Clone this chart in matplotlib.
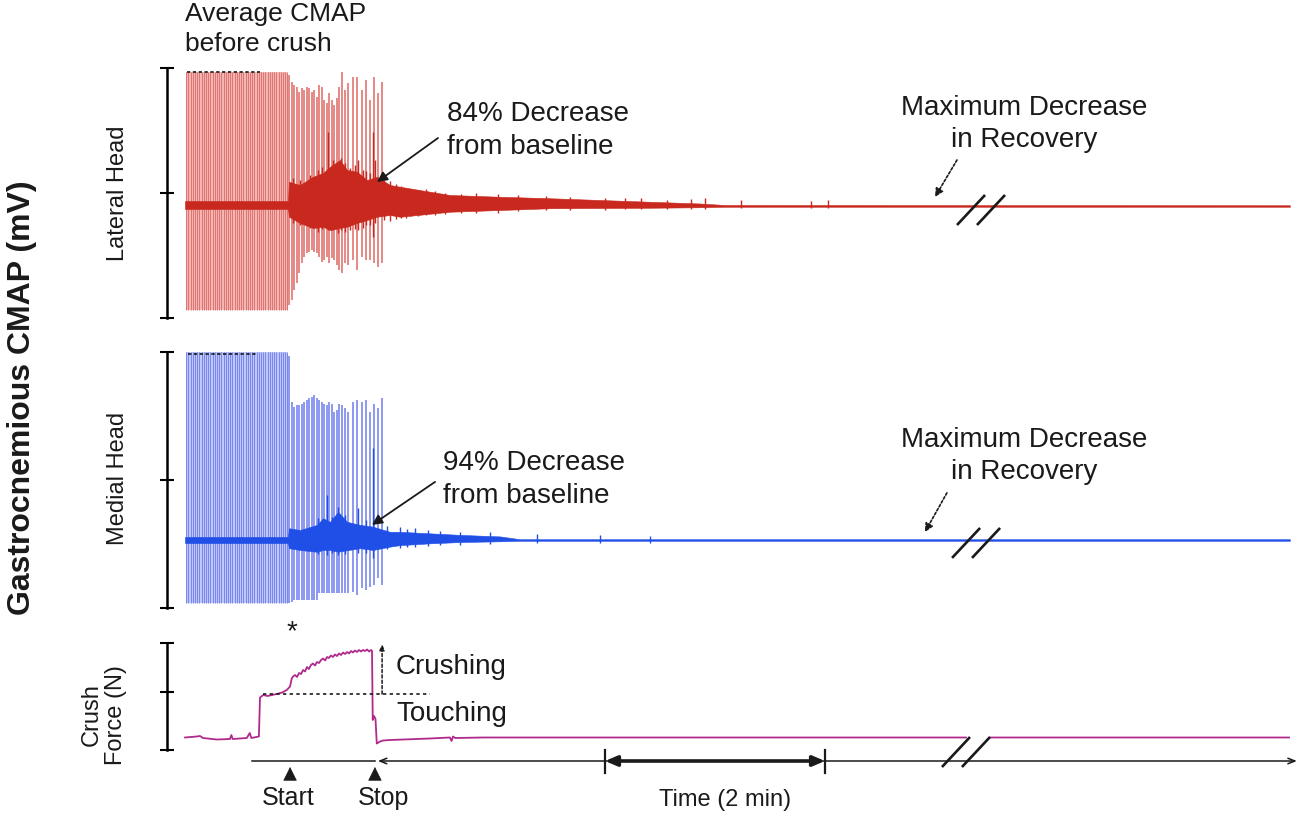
import matplotlib
matplotlib.use("Agg")
import matplotlib.pyplot as plt
import numpy as np

plt.rcParams["font.family"] = ["Liberation Sans", "DejaVu Sans"]

# ---- data (time in s, CMAP in mV, force in N) ----
T_START, T_END = -19.1, 608.2

# stimulation-evoked CMAPs before the crush
PRE_TIMES = [0.6, 1.8, 3.0, 4.2, 5.4, 6.6, 7.8, 9.0, 10.2, 11.4, 12.6, 13.8, 15.0,
             16.2, 17.4, 18.6, 19.8, 21.0, 22.2, 23.4, 24.6, 25.8, 27.0, 28.2, 29.4,
             30.6, 31.8, 33.0, 34.2, 35.4, 36.6, 37.8, 39.0, 40.2, 41.4, 42.6, 43.8,
             45.0, 46.2, 47.4, 48.6, 49.8, 51.0, 52.2, 53.4, 54.6, 55.8]
LAT_PRE_TOP, LAT_PRE_BOT = 5.32, -4.2
MED_PRE_TOP, MED_PRE_BOT = 7.36, -2.46

# CMAPs during / right after the crush
POST_TIMES = [56.9, 58.2, 59.5, 60.9, 62.2, 63.7, 64.9, 66.4, 67.6, 69.1, 70.4, 71.8,
              73.1, 74.6, 75.8, 77.3, 78.7, 80.0, 81.4, 82.7, 84.2, 85.5, 87.3, 89.1,
              91.8, 94.0, 96.4, 98.6, 100.9, 103.3, 105.4, 107.3]
LAT_POST_TOP = [5.2, 4.93, 4.8, 4.73, 4.53, 4.67, 4.6, 4.73, 4.67, 4.53, 4.6, 4.33,
                4.8, 4.73, 4.2, 4.07, 4.47, 4.2, 4.0, 4.27, 4.73, 5.33, 4.6, 4.87,
                5.13, 5.13, 4.6, 5.0, 4.2, 5.13, 4.47, 4.93]
LAT_POST_BOT = [-4.0, -3.8, -3.4, -3.13, -2.73, -2.33, -2.07, -1.93, -1.87, -1.8, -1.87,
                -1.93, -2.07, -2.27, -2.2, -2.07, -2.33, -2.13, -2.2, -2.4, -2.6, -2.73,
                -2.33, -2.4, -2.2, -2.6, -2.07, -2.2, -2.2, -2.33, -2.47, -2.33]
MED_POST_TOP = [7.2, 5.4, 5.2, 5.27, 5.27, 5.33, 5.4, 5.47, 5.53, 5.6, 5.66, 5.53,
                5.47, 5.4, 5.33, 5.27, 5.4, 5.33, 5.01, 5.08, 5.33, 5.27, 5.14, 5.01,
                5.4, 5.47, 5.4, 5.47, 5.01, 5.33, 5.14, 5.53]
MED_POST_BOT = [-2.45, -2.41, -2.34, -2.34, -2.34, -2.34, -2.34, -2.34, -2.34, -2.34,
                -2.34, -2.34, -2.08, -2.08, -2.08, -2.08, -2.08, -2.08, -2.08, -2.08,
                -2.08, -2.08, -2.08, -2.08, -2.02, -2.15, -1.89, -1.95, -1.82, -1.76,
                -1.5, -1.76]

# EMG activity envelope (baseline noise / injury discharge)
LAT_ENV_T = [0, 56.2, 56.7, 62.7, 69.8, 75.3, 79.1, 84.5, 88.4, 93.8, 99.3, 104.7,
             111.8, 117.3, 144.5, 171.8, 199.1, 226.4, 253.6, 280.9, 294.5, 602.7]
LAT_ENV_TOP = [0.16, 0.16, 0.93, 0.8, 1.13, 1.28, 1.53, 1.8, 1.4, 1.33, 1.0, 1.13,
               0.8, 0.73, 0.4, 0.33, 0.27, 0.2, 0.13, 0.06, 0.0, -0.01]
LAT_ENV_BOT = [-0.16, -0.16, -0.47, -0.72, -0.92, -0.87, -1.0, -0.92, -0.87, -0.72,
               -0.6, -0.47, -0.4, -0.47, -0.27, -0.2, -0.13, -0.12, -0.11, -0.09,
               -0.07, -0.07]
MED_ENV_T = [0, 56.2, 56.7, 62.7, 72.0, 75.3, 79.1, 83.5, 88.4, 95.5, 102.5, 111.8,
             117.3, 133.6, 150.0, 171.8, 182.7, 602.7]
MED_ENV_TOP = [0.12, 0.12, 0.46, 0.39, 0.59, 0.85, 0.71, 1.1, 0.71, 0.59, 0.52, 0.32,
               0.32, 0.26, 0.2, 0.14, 0.03, 0.03]
MED_ENV_BOT = [-0.12, -0.12, -0.32, -0.39, -0.46, -0.39, -0.39, -0.46, -0.4, -0.32,
               -0.39, -0.26, -0.2, -0.13, -0.08, -0.05, -0.03, -0.03]

# isolated discharge peaks riding on the activity
LAT_PEAK_T = [58.9, 62.7, 68.2, 72.5, 74.7, 77.9, 80.7, 83.4, 85.1, 87.3, 90.0, 92.7,
              94.4, 97.1, 98.8, 101.0, 102.6, 103.8, 108.5, 112.0, 115.1, 117.9, 120.7,
              123.4, 127.0, 131.5, 136.4, 141.9, 150.5, 158.6, 170.7, 181.6, 196.9,
              210.0, 229.1, 240.0, 248.7, 263.0, 276.0, 283.6, 303.3, 341.5, 350.7]
LAT_PEAK_TOP = [1.07, 1.0, 1.2, 1.4, 1.53, 2.93, 1.8, 1.7, 1.87, 1.67, 1.5, 1.6, 1.8,
                1.4, 1.35, 1.3, 2.93, 1.8, 1.0, 0.95, 0.85, 0.75, 0.7, 0.6, 0.62, 0.65,
                0.55, 0.5, 0.45, 0.5, 0.45, 0.4, 0.35, 0.32, 0.3, 0.3, 0.3, 0.22, 0.25,
                0.28, 0.2, 0.18, 0.2]
LAT_PEAK_BOT = [-0.73, -0.8, -0.93, -1.07, -0.95, -1.0, -0.98, -1.13, -1.0, -1.07,
                -1.0, -0.95, -1.0, -0.9, -0.8, -0.8, -1.27, -0.7, -0.6, -0.62, -0.55,
                -0.5, -0.52, -0.45, -0.42, -0.4, -0.38, -0.35, -0.33, -0.32, -0.3,
                -0.25, -0.2, -0.2, -0.18, -0.17, -0.15, -0.15, -0.14, -0.14, -0.13,
                -0.12, -0.12]
MED_PEAK_T = [72.5, 77.3, 80.0, 83.4, 87.3, 94.4, 98.8, 102.6, 110.0, 117.3, 121.0,
              125.5, 132.6, 139.1, 150.0, 166.4, 192.0, 226.4, 253.6]
MED_PEAK_TOP = [0.85, 1.76, 0.9, 1.3, 0.98, 1.24, 0.8, 3.58, 0.55, 0.5, 0.42, 0.45,
                0.4, 0.35, 0.3, 0.3, 0.25, 0.2, 0.15]
MED_PEAK_BOT = [-0.55, -0.6, -0.5, -0.6, -0.55, -0.5, -0.5, -0.7, -0.35, -0.3, -0.28,
                -0.28, -0.25, -0.2, -0.18, -0.15, -0.12, -0.1, -0.1]

# crush force
FORCE_T = [0, 6.4, 8.2, 9.8, 17.3, 24.5, 25.3, 26.0, 33.7, 35.3, 36.2, 40.3, 40.9,
           42.7, 45.0, 50.0, 53.0, 55.5, 57.3, 58.2, 58.9, 60.0, 61.1, 62.2, 63.3,
           64.4, 65.5, 66.5, 67.6, 68.7, 69.8, 70.9, 72.0, 73.1, 74.2, 75.3, 76.4,
           77.5, 78.5, 79.6, 80.7, 81.8, 82.9, 84.0, 85.1, 86.2, 87.3, 88.4, 89.5,
           90.5, 91.6, 92.7, 93.8, 94.9, 96.0, 97.1, 98.2, 99.3, 100.4, 101.5, 102.0,
           102.4, 103.1, 103.9, 104.6, 106.4, 108.0, 111.8, 119.1, 133.6, 144.5,
           145.4, 146.2, 147.3, 162.5, 426.0, 426.1, 439.1, 602.2]
FORCE_N = [0.25, 0.27, 0.28, 0.24, 0.21, 0.22, 0.30, 0.22, 0.24, 0.34, 0.24, 0.27,
           1.05, 1.10, 1.08, 1.12, 1.15, 1.20, 1.27, 1.43, 1.47, 1.50, 1.46, 1.54,
           1.52, 1.60, 1.57, 1.66, 1.62, 1.70, 1.73, 1.69, 1.76, 1.74, 1.80, 1.83,
           1.79, 1.86, 1.84, 1.89, 1.86, 1.91, 1.88, 1.93, 1.90, 1.95, 1.92, 1.96,
           1.93, 1.98, 1.95, 1.99, 1.96, 2.00, 1.97, 2.00, 1.98, 2.01, 1.97, 2.00,
           1.98, 0.60, 0.68, 0.62, 0.13, 0.17, 0.19, 0.20, 0.21, 0.23, 0.25, 0.18,
           0.27, 0.24, 0.25, 0.25, np.nan, 0.25, 0.25]
TOUCH_LEVEL = 1.12
T_TOUCH, T_CRUSH, T_STOP = 40.9, 57.3, 103.6

LAT_BAR = [-4.5, 0.5, 5.5]
MED_BAR = [-2.65, 2.35, 7.35]
FORCE_BAR = [0.0, 1.16, 2.14]

RED_PALE, RED_FAINT, RED = "#e07571", "#f2b9b6", "#c8281e"
BLUE_PALE, BLUE_FAINT, BLUE = "#7888ee", "#c2cafa", "#1f4fe6"
MAGENTA = "#b02a8c"
INK = "#1a1a1a"

W, H = 1300, 814
fig = plt.figure(figsize=(W / 100, H / 100), dpi=100)


def panel(px_top, px_bot, ylim):
    ax = fig.add_axes([150 / W, 1 - px_bot / H, 1150 / W, (px_bot - px_top) / H])
    ax.set_xlim(T_START, T_END)
    ax.set_ylim(*ylim)
    for s in ("top", "right", "bottom"):
        ax.spines[s].set_visible(False)
    ax.spines["left"].set_position(("data", -9.8))
    ax.spines["left"].set_linewidth(1.8)
    ax.set_xticks([])
    ax.tick_params(axis="y", direction="inout", length=10, width=1.5, labelleft=False)
    return ax


def scale_bar(ax, bar):
    ax.spines["left"].set_bounds(bar[0], bar[-1])
    ax.set_yticks(bar)


def cmap_trace(ax, pre_top, pre_bot, post_top, post_bot, env, peaks, pale, faint, dark):
    # faint body behind the tightly packed pre-crush responses
    ax.fill_between([PRE_TIMES[0], PRE_TIMES[-1]], pre_bot, pre_top, color=faint,
                    lw=0, zorder=1)
    ax.vlines(PRE_TIMES, pre_bot, pre_top, color=pale, lw=0.75, zorder=2)
    ax.vlines(POST_TIMES, post_bot, post_top, color=pale, lw=1.2, zorder=2)
    et, etop, ebot = env
    ax.fill_between(et, ebot, etop, color=dark, lw=0.4, edgecolor=dark, zorder=3)
    pt, ptop, pbot = peaks
    ax.vlines(pt, pbot, ptop, color=dark, lw=1.0, zorder=3)


# ---- lateral head ----
ax1 = panel(55, 330, (-5, 6))
scale_bar(ax1, LAT_BAR)
cmap_trace(ax1, LAT_PRE_TOP, LAT_PRE_BOT, LAT_POST_TOP, LAT_POST_BOT,
           (LAT_ENV_T, LAT_ENV_TOP, LAT_ENV_BOT),
           (LAT_PEAK_T, LAT_PEAK_TOP, LAT_PEAK_BOT), RED_PALE, RED_FAINT, RED)
ax1.plot([1.1, 40.9], [LAT_PRE_TOP, LAT_PRE_TOP], ls=(0, (2, 1.5)), color=INK, lw=1.2,
         zorder=4)

# ---- medial head ----
ax2 = panel(340, 620, (-3.125, 7.8125))
scale_bar(ax2, MED_BAR)
cmap_trace(ax2, MED_PRE_TOP, MED_PRE_BOT, MED_POST_TOP, MED_POST_BOT,
           (MED_ENV_T, MED_ENV_TOP, MED_ENV_BOT),
           (MED_PEAK_T, MED_PEAK_TOP, MED_PEAK_BOT), BLUE_PALE, BLUE_FAINT, BLUE)
ax2.plot([1.6, 39.3], [MED_PRE_TOP - 0.09, MED_PRE_TOP - 0.09], ls=(0, (2, 1.5)),
         color=INK, lw=1.2, zorder=4)

# ---- crush force ----
ax3 = panel(625, 775, (-0.5, 2.5))
scale_bar(ax3, FORCE_BAR)
ax3.plot(FORCE_T, FORCE_N, color=MAGENTA, lw=1.3)
ax3.plot([T_TOUCH + 1.6, 133.6], [TOUCH_LEVEL, TOUCH_LEVEL], ls=(0, (2, 2)), color=INK, lw=1.2)
ax3.annotate("", xy=(107.5, 2.12), xytext=(107.5, TOUCH_LEVEL),
             arrowprops=dict(arrowstyle="-|>,head_length=0.35,head_width=0.15",
                             ls=(0, (2, 1.5)), color=INK, lw=1.1, shrinkA=0, shrinkB=0))
ax3.text(T_CRUSH + 1, 2.36, "*", ha="center", va="center", fontsize=20, color=INK)
ax3.text(115.1, 1.66, "Crushing", ha="left", va="center", fontsize=20, color=INK)
ax3.text(115.1, 0.72, "Touching", ha="left", va="center", fontsize=20, color=INK)

# time axis
y_ax = -0.22
ax3.plot([36.5, T_STOP], [y_ax, y_ax], color=INK, lw=1.1, clip_on=False)
ax3.annotate("", xy=(606.5, y_ax), xytext=(T_STOP + 1.6, y_ax), annotation_clip=False,
             arrowprops=dict(arrowstyle="<->,head_length=0.5,head_width=0.2",
                             color=INK, lw=1.1, shrinkA=0, shrinkB=0))
ax3.annotate("", xy=(229.1, y_ax), xytext=(349.1, y_ax), annotation_clip=False,
             arrowprops=dict(arrowstyle="<|-|>,head_length=0.7,head_width=0.3",
                             color=INK, lw=2.6, shrinkA=0, shrinkB=0))
for tb in (229.1, 349.1):
    ax3.plot([tb, tb], [0.0, -0.46], color=INK, lw=1.6, clip_on=False)
ax3.text(294.5, -1.0, "Time (2 min)", ha="center", va="center", fontsize=17,
         color=INK, family=["Liberation Sans Narrow", "Liberation Sans"])
for tt, lab, tx in ((T_CRUSH, "Start", 56.2), (T_STOP, "Stop", 108.0)):
    ax3.annotate("", xy=(tt, -0.34), xytext=(tt, -0.56), annotation_clip=False,
                 arrowprops=dict(arrowstyle="-|>,head_length=0.9,head_width=0.45",
                                 color=INK, lw=0.5, shrinkA=0, shrinkB=0))
    ax3.text(tx, -0.96, lab, ha="center", va="center", fontsize=18, color=INK)

# break marks
for ax, (ylo, yhi), offs in ((ax1, (-0.8, 0.4), (421.1, 432.0)),
                             (ax2, (-0.7, 0.47), (418.4, 429.3)),
                             (ax3, (-0.34, 0.26), (412.9, 423.8))):
    for x0 in offs:
        ax.plot([x0, x0 + 15.3], [ylo, yhi], color=INK, lw=1.9, clip_on=False,
                solid_capstyle="butt", zorder=5)

# ---- annotations ----
ax1.text(142.9, 2.98, "84% Decrease\nfrom baseline", ha="left", va="center",
         fontsize=20, color=INK, linespacing=1.35)
ax1.annotate("", xy=(104.7, 0.92), xytext=(138.0, 2.68),
             arrowprops=dict(arrowstyle="-|>,head_length=0.6,head_width=0.3",
                             color=INK, lw=1.3, shrinkA=0, shrinkB=0))
ax2.text(140.7, 2.36, "94% Decrease\nfrom baseline", ha="left", va="center",
         fontsize=20, color=INK, linespacing=1.35)
ax2.annotate("", xy=(102.0, 0.59), xytext=(136.4, 2.27),
             arrowprops=dict(arrowstyle="-|>,head_length=0.6,head_width=0.3",
                             color=INK, lw=1.3, shrinkA=0, shrinkB=0))
for ax, yt, a0, a1 in ((ax1, 3.26, (421.1, 1.8), (409.1, 0.32)),
                       (ax2, 3.3, (415.6, 1.84), (403.6, 0.31))):
    ax.text(457.6, yt, "Maximum Decrease\nin Recovery", ha="center", va="center",
            fontsize=20, color=INK, linespacing=1.3)
    ax.annotate("", xy=a1, xytext=a0,
                arrowprops=dict(arrowstyle="-|>,head_length=0.5,head_width=0.25",
                                ls=(0, (1.5, 1.2)), color=INK, lw=1.2,
                                shrinkA=0, shrinkB=0))

fig.text(185 / W, 1 - 29 / H, "Average CMAP\nbefore crush", ha="left", va="center",
         fontsize=19, color=INK, linespacing=1.3)
fig.text(22 / W, 1 - 398 / H, "Gastrocnemious CMAP (mV)", rotation=90, ha="center",
         va="center", fontsize=23, fontweight="bold", color=INK)
fig.text(118 / W, 1 - 193 / H, "Lateral Head", rotation=90, ha="center", va="center",
         fontsize=17, color=INK)
fig.text(118 / W, 1 - 478 / H, "Medial Head", rotation=90, ha="center", va="center",
         fontsize=17, color=INK)
fig.text(104 / W, 1 - 715 / H, "Crush\nForce (N)", rotation=90, ha="center",
         va="center", fontsize=17, color=INK, linespacing=1.1)

fig.savefig("out.png", dpi=100)
